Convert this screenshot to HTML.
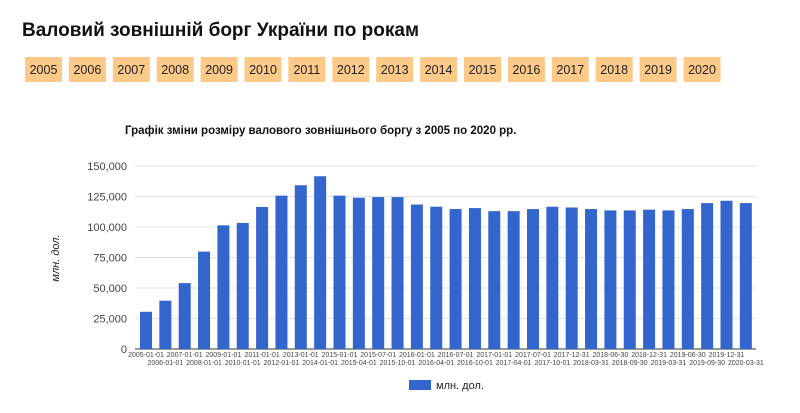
<!DOCTYPE html>
<html><head><meta charset="utf-8"><style>
body{margin:0;background:#fff;width:800px;height:408px;overflow:hidden;font-family:"Liberation Sans",sans-serif;}
</style></head><body>
<svg width="800" height="408" xmlns="http://www.w3.org/2000/svg" font-family="Liberation Sans, sans-serif">
<text x="22" y="36" font-size="19" font-weight="bold" fill="#111">Валовий зовнішній борг України по рокам</text>
<g id="btns"></g>
<text x="125" y="134" font-size="11.5" font-weight="bold" fill="#111">Графік зміни розміру валового зовнішнього боргу з 2005 по 2020 рр.</text>
<g id="grid"></g>
<g id="bars"></g>
<g id="xl" font-size="7" fill="#444" text-anchor="middle"></g>
<text transform="translate(59,258) rotate(-90)" font-size="11" font-style="italic" fill="#222" text-anchor="middle">млн. дол.</text>
<rect x="409" y="380" width="22" height="10" fill="#3366cc"/>
<text x="436" y="389" font-size="11" fill="#222">млн. дол.</text>
</svg>
<script>
var ns="http://www.w3.org/2000/svg";
function el(p,t,a,txt){var e=document.createElementNS(ns,t);for(var k in a)e.setAttribute(k,a[k]);if(txt!=null)e.textContent=txt;p.appendChild(e);return e;}
var b=document.getElementById('btns');
for(var i=0;i<16;i++){var x=25+i*43.9;el(b,'rect',{x:x,y:57,width:37,height:25,fill:'#fcc989'});el(b,'text',{x:x+18.5,y:74,'font-size':12.5,'text-anchor':'middle',fill:'#222'},String(2005+i));}
var g=document.getElementById('grid');
for(var i=0;i<=6;i++){var y=349-i*30.5;el(g,'line',{x1:135,x2:756,y1:y,y2:y,stroke:i==0?'#333':'#e3e3e3','stroke-width':1});
el(g,'text',{x:127,y:y+4,'font-size':11,'text-anchor':'end',fill:'#444'},i==0?'0':(i*25)+',000');}
var vals=[30.5,39.6,54,79.8,101.4,103.3,116.4,125.7,134.2,141.6,125.7,124,124.5,124.5,118.4,116.6,114.7,115.5,113,113,114.7,116.6,116,114.7,113.6,113.6,114.2,113.6,114.7,119.6,121.5,119.6];
var labs=['2005-01-01','2006-01-01','2007-01-01','2008-01-01','2009-01-01','2010-01-01','2011-01-01','2012-01-01','2013-01-01','2014-01-01','2015-01-01','2015-04-01','2015-07-01','2015-10-01','2016-01-01','2016-04-01','2016-07-01','2016-10-01','2017-01-01','2017-04-01','2017-07-01','2017-10-01','2017-12-31','2018-03-31','2018-06-30','2018-09-30','2018-12-31','2019-03-31','2019-06-30','2019-09-30','2019-12-31','2020-03-31'];
var bb=document.getElementById('bars'),xl=document.getElementById('xl');
for(var i=0;i<32;i++){var x=140+i*19.35,h=vals[i]*183/150;
el(bb,'rect',{x:x,y:349-h,width:12,height:h,fill:'#3366cc'});
el(xl,'text',{x:x+6,y:i%2?365:357},labs[i]);}
</script>
</body></html>
